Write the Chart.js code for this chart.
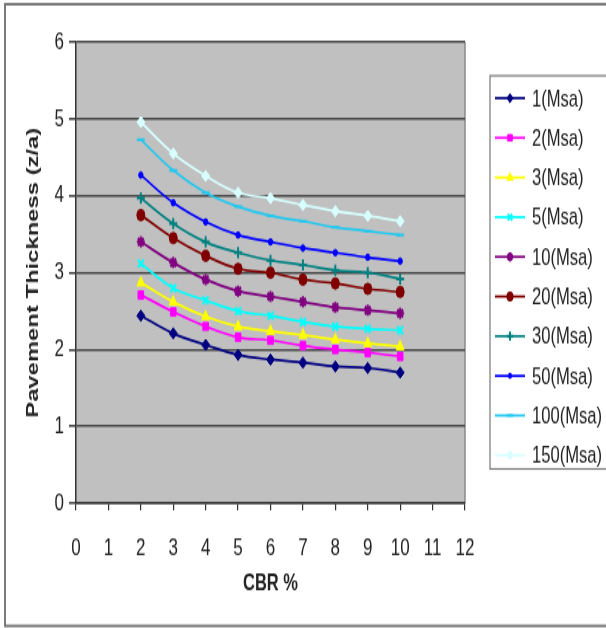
<!DOCTYPE html>
<html>
<head>
<meta charset="utf-8">
<script src="https://cdn.jsdelivr.net/npm/chart.js@4/dist/chart.umd.min.js"></script>
<style>
  html, body { margin: 0; padding: 0; background: #fff; }
</style>
</head>
<body>
<!-- drawn at 606x448 and shown stretched to 628 tall, like the source image -->
<canvas id="myChart" width="606" height="448" style="display:block;width:606px;height:628px"></canvas>
<script>
const cbr = [2, 3, 4, 5, 6, 7, 8, 9, 10];
const msa1 = [2.44, 2.21, 2.06, 1.93, 1.87, 1.83, 1.78, 1.76, 1.70];
const msa2 = [2.71, 2.49, 2.30, 2.16, 2.12, 2.05, 2.00, 1.96, 1.91];
const msa3 = [2.87, 2.62, 2.43, 2.30, 2.24, 2.19, 2.13, 2.08, 2.04];
const msa5 = [3.12, 2.80, 2.64, 2.50, 2.44, 2.36, 2.30, 2.27, 2.25];
const msa10 = [3.40, 3.13, 2.91, 2.76, 2.69, 2.62, 2.55, 2.51, 2.47];
const msa20 = [3.75, 3.45, 3.22, 3.05, 3.00, 2.91, 2.86, 2.79, 2.75];
const msa30 = [3.97, 3.64, 3.40, 3.26, 3.16, 3.10, 3.03, 3.00, 2.92];
const msa50 = [4.27, 3.91, 3.66, 3.49, 3.40, 3.32, 3.26, 3.20, 3.15];
const msa100 = [4.73, 4.33, 4.04, 3.86, 3.74, 3.67, 3.59, 3.54, 3.49];
const msa150 = [4.96, 4.55, 4.26, 4.04, 3.97, 3.88, 3.80, 3.74, 3.67];
const seriesLabels = ["1(Msa)", "2(Msa)", "3(Msa)", "5(Msa)", "10(Msa)", "20(Msa)", "30(Msa)", "50(Msa)", "100(Msa)", "150(Msa)"];

const FONT = "'Liberation Sans', Arial, sans-serif";

function series(label, values, color, style, radius) {
  return {
    label: label,
    data: values.map((v, i) => ({ x: cbr[i], y: v })),
    borderColor: color,
    backgroundColor: color,
    pointStyle: style,
    pointRadius: radius,
    pointBorderWidth: style === 'line' || style === 'cross' || style === 'crossRot' || style === 'star' ? 2 : 1,
    borderWidth: 1.7,
    tension: 0.4,
    fill: false
  };
}

// grey plot area + outer frame
const backdrop = {
  id: 'backdrop',
  beforeDraw(chart) {
    const { ctx, chartArea: a } = chart;
    ctx.save();
    ctx.fillStyle = '#c0c0c0';
    ctx.fillRect(a.left, a.top, a.right - a.left, a.bottom - a.top);
    ctx.strokeStyle = '#8a8a8a';
    ctx.lineWidth = 1.5;
    ctx.beginPath();
    ctx.moveTo(a.right, a.top);
    ctx.lineTo(a.right, a.bottom);
    ctx.stroke();
    ctx.strokeStyle = '#6e6e6e';
    ctx.lineWidth = 1.8;
    ctx.strokeRect(5, 3, 610, 443.5);
    ctx.restore();
  }
};

// excel style legend box on the right
const sideLegend = {
  id: 'sideLegend',
  afterDraw(chart) {
    const ctx = chart.ctx;
    ctx.save();
    ctx.fillStyle = '#fff';
    ctx.fillRect(490, 54, 130, 280.5);
    ctx.strokeStyle = '#777';
    ctx.lineWidth = 1.2;
    ctx.strokeRect(490, 54, 130, 280.5);
    ctx.font = '16.6px ' + FONT;
    ctx.textBaseline = 'middle';
    chart.data.datasets.forEach((ds, i) => {
      const y = 70 + i * 28.3;
      ctx.strokeStyle = ds.borderColor;
      ctx.fillStyle = ds.backgroundColor;
      ctx.lineWidth = 1.7;
      ctx.beginPath();
      ctx.moveTo(495, y);
      ctx.lineTo(525, y);
      ctx.stroke();
      ctx.lineWidth = ds.pointBorderWidth;
      Chart.helpers.drawPoint(ctx, { pointStyle: ds.pointStyle, radius: ds.pointRadius * 0.8, rotation: 0, borderWidth: ds.pointBorderWidth }, 510, y);
      ctx.fillStyle = '#222';
      ctx.fillText(ds.label, 532, y + 1);
    });
    ctx.restore();
  }
};

new Chart(document.getElementById('myChart').getContext('2d'), {
  type: 'line',
  data: {
    datasets: [
      series(seriesLabels[0], msa1, '#000080', 'rectRot', 4),
      series(seriesLabels[1], msa2, '#ff00ff', 'rect', 4),
      series(seriesLabels[2], msa3, '#ffff00', 'triangle', 4.5),
      series(seriesLabels[3], msa5, '#00ffff', 'crossRot', 4),
      series(seriesLabels[4], msa10, '#800080', 'star', 4),
      series(seriesLabels[5], msa20, '#800000', 'circle', 4),
      series(seriesLabels[6], msa30, '#008080', 'cross', 4),
      series(seriesLabels[7], msa50, '#0000ff', 'circle', 2.2),
      series(seriesLabels[8], msa100, '#22c8f0', 'line', 4),
      series(seriesLabels[9], msa150, '#d8ffff', 'rectRot', 4)
    ]
  },
  options: {
    responsive: false,
    animation: false,
    devicePixelRatio: 1,
    layout: { padding: { left: 0, top: 30, right: 141, bottom: 0 } },
    plugins: {
      legend: { display: false },
      tooltip: { enabled: false }
    },
    scales: {
      x: {
        type: 'linear',
        min: 0,
        max: 12,
        afterFit(scale) { scale.height = 89; },
        ticks: { stepSize: 1, color: '#222', padding: 17, font: { family: FONT, size: 17 } },
        grid: { drawOnChartArea: false, drawTicks: true, tickLength: 5, color: '#333', lineWidth: 1.2 },
        border: { color: '#333', width: 1.5 },
        title: { display: true, text: 'CBR %', color: '#222', font: { family: FONT, size: 16.5, weight: 'bold' }, padding: { top: 0, bottom: 22 } }
      },
      y: {
        min: 0,
        max: 6,
        afterFit(scale) { scale.width = 76; },
        ticks: { stepSize: 1, color: '#222', padding: 5, font: { family: FONT, size: 17 } },
        grid: { color: '#4a4a4a', lineWidth: 1.6, tickLength: 7 },
        border: { color: '#333', width: 1.5 },
        title: { display: true, text: 'Pavement Thickness (z/a)', color: '#222', font: { family: FONT, size: 17, weight: 'bold' }, padding: { top: 23, bottom: 0 } }
      }
    }
  },
  plugins: [backdrop, sideLegend]
});
</script>
</body>
</html>
